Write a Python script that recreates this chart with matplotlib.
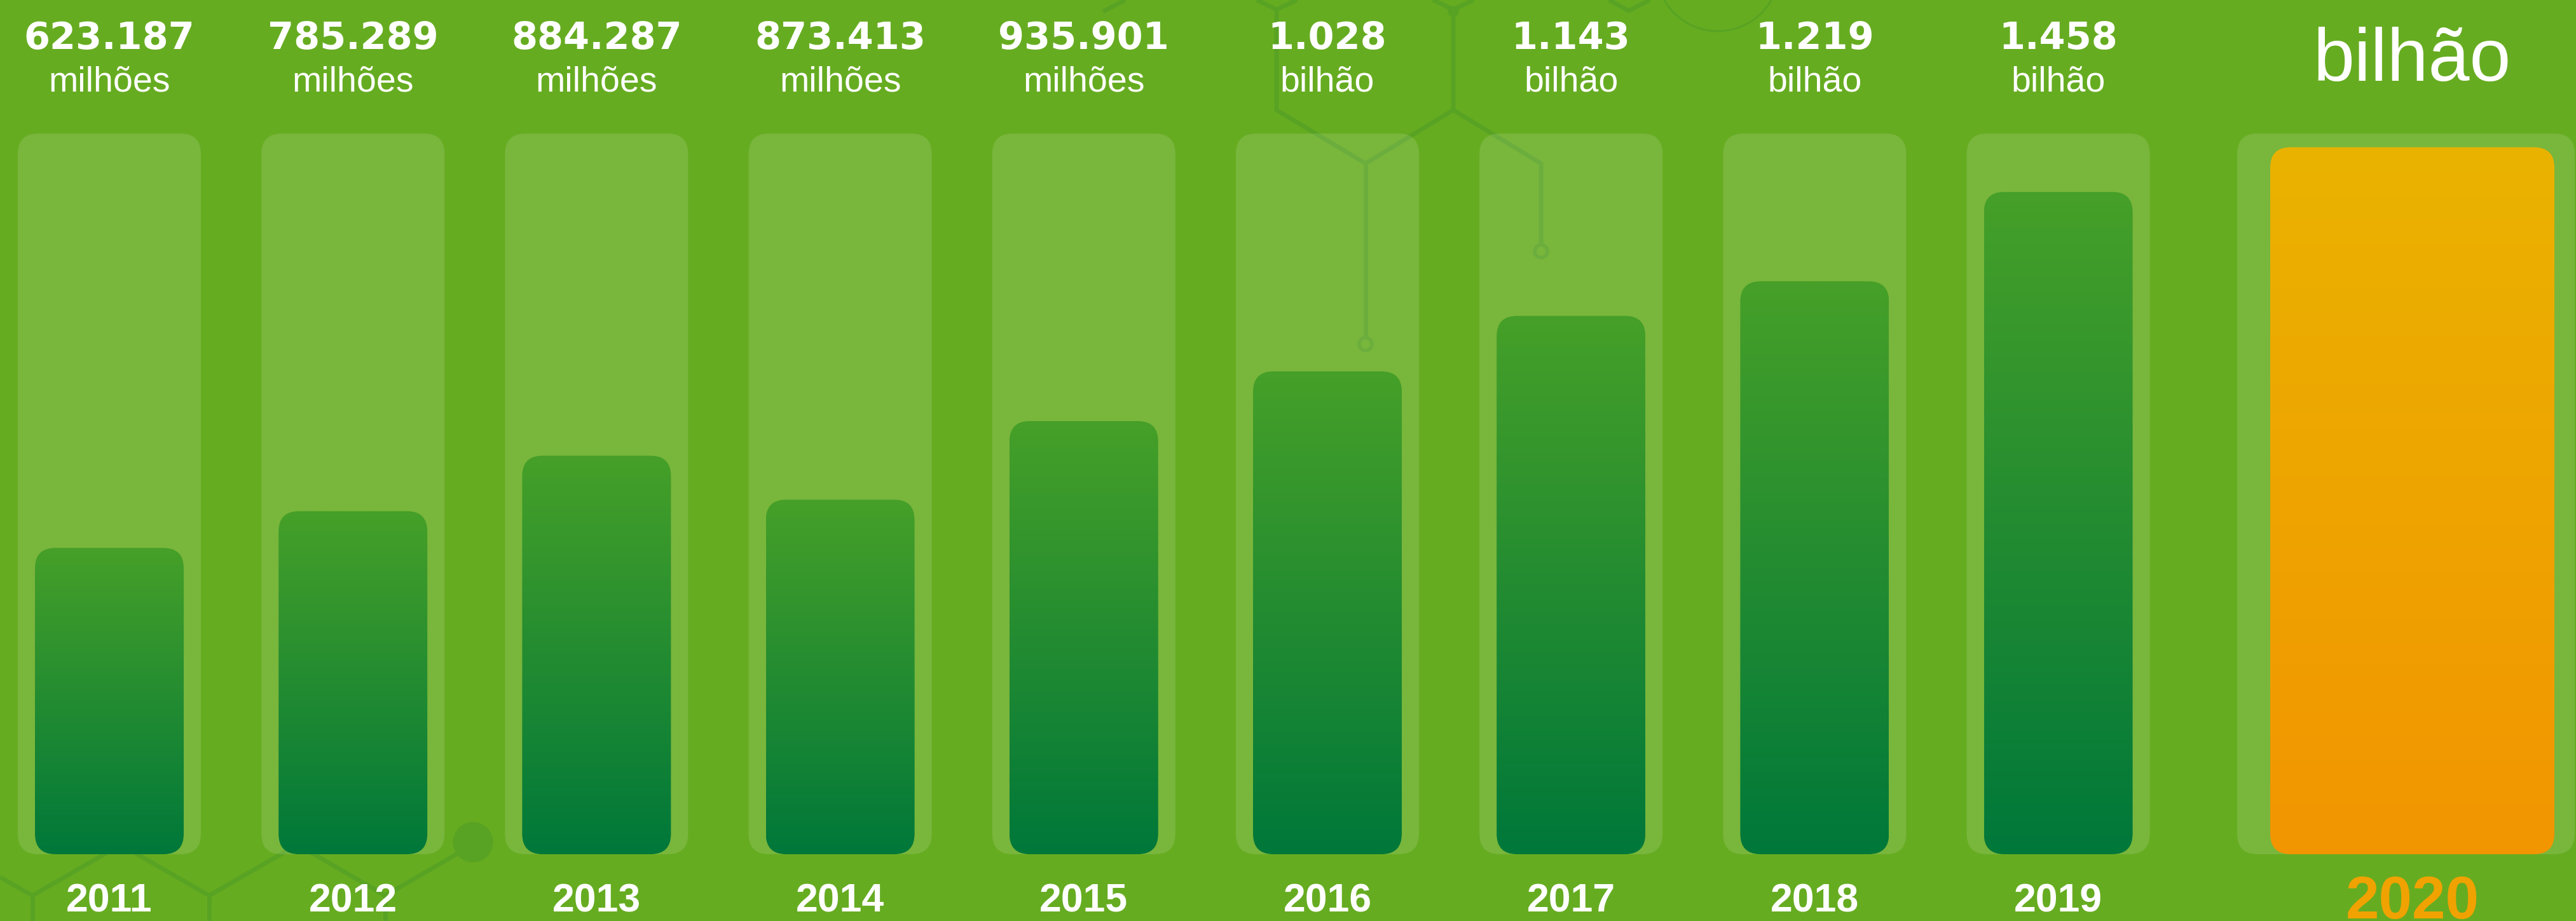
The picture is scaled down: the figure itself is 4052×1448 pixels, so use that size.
import numpy as np
import matplotlib
matplotlib.use("Agg")
import matplotlib.pyplot as plt
from matplotlib.patches import FancyBboxPatch, Circle, Arc
from matplotlib.colors import to_rgb

# ---------------- data ----------------
years = ["2011", "2012", "2013", "2014", "2015", "2016", "2017", "2018", "2019"]
value_labels = ["623.187", "785.289", "884.287", "873.413", "935.901",
                "1.028", "1.143", "1.219", "1.458"]
unit_labels = ["milhões", "milhões", "milhões", "milhões", "milhões",
               "bilhão", "bilhão", "bilhão", "bilhão"]
# bar height as % of the light track
bar_levels = [42.5, 47.6, 55.3, 49.2, 60.1, 67.0, 74.7, 79.5, 91.9]
highlight_year = "2020"
highlight_unit = "bilhão"
highlight_level = 98.1

# ---------------- style / layout ----------------
W, H, DPI = 4052, 1448, 100
BG = "#66AC21"
LINE = "#58A323"
TRACK = (1, 1, 1, 0.125)
GREEN_TOP, GREEN_BOT = to_rgb("#46A028"), to_rgb("#00783A")
ORANGE_TOP, ORANGE_BOT = to_rgb("#EAB300"), to_rgb("#F29500")

SLOT_PX = 383.2      # px between slots
X0_PX = 172          # px centre of first slot
BASE_PX = 1343       # px y of bar bottoms
TRACK_PX = 1133      # px height of a full track (=100 units)
px_x = SLOT_PX
px_y = TRACK_PX / 100.0

fig = plt.figure(figsize=(W / DPI, H / DPI), dpi=DPI)
fig.patch.set_facecolor(BG)

# ---- decorative hexagon network (pixel coordinates) ----
bg = fig.add_axes([0, 0, 1, 1], zorder=0)
bg.set_xlim(0, W)
bg.set_ylim(H, 0)
bg.axis("off")
hex_paths = [
    [(1977, 0), (2008, 15), (2040, 0)],
    [(2008, 15), (2008, 173), (2148, 257), (2286, 173), (2286, 15)],
    [(2254, 0), (2286, 15), (2318, 0)],
    [(2148, 257), (2148, 530)],
    [(2286, 173), (2424, 257), (2424, 384)],
    [(2531, 0), (2562, 17), (2595, 0)],
    [(1770, 0), (1735, 18)],
    [(0, 1379), (51, 1408), (190, 1328), (329, 1408), (468, 1328),
     (606, 1408), (744, 1328)],
    [(51, 1408), (51, 1448)],
    [(329, 1408), (329, 1448)],
    [(606, 1408), (606, 1448)],
]
for p in hex_paths:
    xs, ys = zip(*p)
    bg.plot(xs, ys, color=LINE, lw=5, solid_joinstyle="miter",
            solid_capstyle="butt")
bg.add_patch(Circle((2148, 541), 10, fill=False, ec=LINE, lw=4))
bg.add_patch(Circle((2424, 395), 10, fill=False, ec=LINE, lw=4))
bg.add_patch(Circle((2286, 18), 8, color=LINE))
bg.add_patch(Circle((744, 1324), 31, color=LINE))
bg.add_patch(Arc((2702, -48), 194, 194, color=LINE, lw=2.2))

# ---- data axes ----
ax = fig.add_axes([0, 0, 1, 1], zorder=2)
ax.patch.set_alpha(0)
ax.axis("off")
xmin, xmax = -X0_PX / SLOT_PX, (W - X0_PX) / SLOT_PX
ymin, ymax = -(H - BASE_PX) / px_y, BASE_PX / px_y
aspect = px_x / px_y


def rounded(xc, w, h, radius_px, **kw):
    p = FancyBboxPatch((xc - w / 2, 0), w, h,
                       boxstyle=f"round,pad=0,rounding_size={radius_px / px_x}",
                       mutation_aspect=aspect, **kw)
    ax.add_patch(p)
    return p


def gradient_bar(xc, w, h, top, bot, z):
    p = rounded(xc, w, h, 32, fc="none", ec="none", zorder=z)
    t = np.linspace(0, 1, 256)[:, None]
    arr = (np.array(top)[None, :] * (1 - t) + np.array(bot)[None, :] * t)
    arr = arr.reshape(256, 1, 3)
    im = ax.imshow(arr, extent=(xc - w / 2, xc + w / 2, 0, h), origin="upper",
                   aspect="auto", interpolation="bilinear", zorder=z)
    im.set_clip_path(p)


TRACK_W = 288 / px_x
BAR_W = 234 / px_x
positions = np.arange(len(years))

NUM_BASE = (BASE_PX - 77) / px_y
UNIT_BASE = (BASE_PX - 143) / px_y
YEAR_BASE = (BASE_PX - 1434) / px_y

for i, x in enumerate(positions):
    rounded(x, TRACK_W, 100, 32, fc=TRACK, ec="none", zorder=2)
    gradient_bar(x, BAR_W, bar_levels[i], GREEN_TOP, GREEN_BOT, 3)
    ax.text(x, NUM_BASE, value_labels[i], ha="center", va="baseline",
            fontsize=42.5, fontweight="bold", family="DejaVu Sans", color="white")
    ax.text(x, UNIT_BASE, unit_labels[i], ha="center", va="baseline",
            fontsize=40, family="Liberation Sans", color="white")
    ax.text(x, YEAR_BASE, years[i], ha="center", va="baseline",
            fontsize=45, fontweight="bold", family="Liberation Sans", color="white")

# highlighted 2020
hx_track = (3784.5 - X0_PX) / px_x
hx_bar = (3794.5 - X0_PX) / px_x
rounded(hx_track, 531 / px_x, 100, 32, fc=TRACK, ec="none", zorder=2)
gradient_bar(hx_bar, 447 / px_x, highlight_level, ORANGE_TOP, ORANGE_BOT, 3)
ax.text(hx_bar, (BASE_PX - 127) / px_y, highlight_unit, ha="center",
        va="baseline", fontsize=84, family="Liberation Sans", color="white")
ax.text(hx_bar, (BASE_PX - 1444) / px_y, highlight_year, ha="center",
        va="baseline", fontsize=68, fontweight="bold", family="Liberation Sans",
        color="#F0A200")

ax.set_xlim(xmin, xmax)
ax.set_ylim(ymin, ymax)

fig.savefig("out.png", dpi=DPI, facecolor=BG)
